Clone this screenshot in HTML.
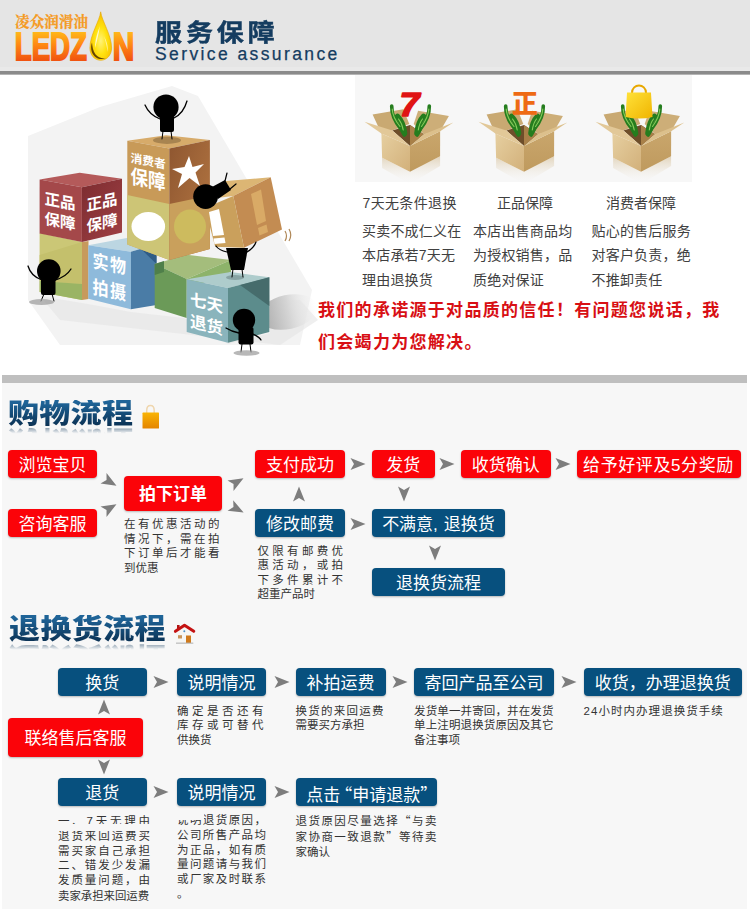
<!DOCTYPE html>
<html lang="zh-CN">
<head>
<meta charset="utf-8">
<title>服务保障</title>
<style>
*{margin:0;padding:0;box-sizing:border-box}
html,body{width:750px;height:909px;overflow:hidden;background:#fff}
body{position:relative;font-family:"Liberation Sans","Noto Sans CJK SC",sans-serif;color:#333}
.abs{position:absolute}
#hdr{left:0;top:0;width:750px;height:70px;background:#e5e5e5}
#hbar{left:0;top:67px;width:750px;height:8px;background:linear-gradient(#e9e9e9 0,#e9e9e9 4px,#8b8b8b 4px,#8b8b8b 7px,#b4b4b4 7px,#b4b4b4 8px)}
#panel{left:355px;top:75px;width:337px;height:107px;background:#f7f7f7}
.cap{position:absolute;font-size:14px;line-height:16px;color:#404040;white-space:nowrap;top:195px}
.txt{position:absolute;font-size:14px;line-height:24.4px;color:#404040;white-space:nowrap;top:219px;letter-spacing:.2px}
#promise{left:318px;top:295px;width:420px;font-size:17px;line-height:32px;font-weight:bold;color:#d80f14;letter-spacing:1.3px;white-space:nowrap}
.band{position:absolute;left:2px;width:745px;background:#f7f7f7}
.gbar{position:absolute;left:2px;width:745px;height:8px;background:#bfbfbf}
.ttl{position:absolute;font-family:"Liberation Sans","Noto Sans CJK SC",sans-serif;font-weight:900;font-size:31px;line-height:34px;height:34px;color:transparent;background:linear-gradient(#1f6498 10%,#0a3052 90%);-webkit-background-clip:text;background-clip:text;white-space:nowrap;transform:scaleY(.885);transform-origin:0 31px;-webkit-box-reflect:below -6px linear-gradient(to top,rgba(0,0,0,.55) 8%,transparent 30%)}
.bx{position:absolute;height:28px;border-radius:4px;color:#fff;font-size:17px;line-height:28px;text-align:center;white-space:nowrap;box-shadow:0 1px 2px rgba(0,0,0,.25)}
.r{background:#fb0309}
.b{background:#07507e}
.q{font-family:"Noto Sans CJK SC",sans-serif}
.d{position:absolute;font-size:11.5px;line-height:15px;color:#333;white-space:nowrap}
</style>
</head>
<body>
<div id="hdr" class="abs"></div>
<div id="hbar" class="abs"></div>
<div id="panel" class="abs"></div>
<svg class="abs" style="left:0;top:0" width="150" height="70" viewBox="0 0 150 70">
<defs>
<linearGradient id="lg1" x1="0" y1="0" x2="0" y2="1"><stop offset="0" stop-color="#ffd21e"/><stop offset=".45" stop-color="#ff8a12"/><stop offset="1" stop-color="#ea3a10"/></linearGradient>
<radialGradient id="dg" cx=".5" cy=".6" r=".62"><stop offset="0" stop-color="#fff27a"/><stop offset=".45" stop-color="#ffe210"/><stop offset=".85" stop-color="#f8c400"/><stop offset="1" stop-color="#e09a00"/></radialGradient>
</defs>
<text x="15" y="27.2" font-family="'Liberation Serif','Noto Serif CJK SC',serif" font-weight="700" font-size="14.5" fill="#f59a22" stroke="#f59a22" stroke-width=".25" textLength="73" lengthAdjust="spacing">凌众润滑油</text>
<text x="14.8" y="60" font-family="'Liberation Sans',sans-serif" font-weight="700" font-size="39" fill="url(#lg1)" stroke="url(#lg1)" stroke-width="2" stroke-linejoin="miter" textLength="72" lengthAdjust="spacingAndGlyphs">LEDZ</text>
<text x="112.7" y="60" font-family="'Liberation Sans',sans-serif" font-weight="700" font-size="39" fill="url(#lg1)" stroke="url(#lg1)" stroke-width="2" stroke-linejoin="miter" textLength="21.5" lengthAdjust="spacingAndGlyphs">N</text>
<path d="M100.7 11.8 C101.8 21 111.6 35 111.6 48 C111.6 55 106.8 60.3 100.7 60.3 C94.6 60.3 89.9 55 89.9 48 C89.9 35 99.6 21 100.7 11.8Z" fill="url(#dg)" stroke="#e8a800" stroke-width=".6"/>
<path d="M92 42.5 C90.3 47 91 52.5 94.5 56.2 C97.5 59.3 102.5 59.8 106 58 C102 58.8 98 57.5 95.6 54.5 C93 51.2 92.3 46.5 92 42.5Z" fill="#4a2c00" opacity=".85"/>
<path d="M99.8 26 C97.5 33 94.8 40 95.2 48 C96.5 42 99 34 99.8 26Z" fill="#fffbe0" opacity=".9"/>
<path d="M104 36 C106.5 41 108.5 46 107.5 52 C107 47 105.5 41 104 36Z" fill="#fffbe0" opacity=".7"/>
</svg>
<div class="abs" style="left:155px;top:14px;font-size:27px;line-height:36px;font-weight:700;-webkit-text-stroke:.5px #143c60;color:#143c60;letter-spacing:3.9px;white-space:nowrap;transform:scaleY(.9);transform-origin:0 30px" id="t1">服务保障</div>
<div class="abs" style="left:155px;top:43px;font-size:17.5px;line-height:22px;color:#143c60;letter-spacing:2.4px;-webkit-text-stroke:.25px #143c60;white-space:nowrap" id="t2">Service assurance</div>
<!--LOGO-END-->
<svg class="abs" style="left:0;top:75px" width="345" height="300" viewBox="0 75 345 300">
<defs>
<linearGradient id="shd" x1="0" y1="0" x2="1" y2="0"><stop offset="0" stop-color="#a8a8a8"/><stop offset=".5" stop-color="#d4d4d4"/><stop offset="1" stop-color="#f4f4f4" stop-opacity="0"/></linearGradient>
<linearGradient id="gR" x1="0" y1="0" x2="1" y2="1"><stop offset="0" stop-color="#7c2c30"/><stop offset="1" stop-color="#a04044"/></linearGradient>
<linearGradient id="gBr" x1="0" y1="0" x2="1" y2="1"><stop offset="0" stop-color="#8e5630"/><stop offset="1" stop-color="#b87a44"/></linearGradient>
</defs>
<!-- faint background -->
<polygon points="28,136 100,107 172,86 198,96 312,290 300,345 60,345 28,300" fill="#f3f3f3"/>
<!-- ground shadows -->
<polygon points="40,296 88,304 131,312 184,318 228,344 270,333 270,300 300,300 318,320 280,345 60,320" fill="#e4e4e4" opacity=".6"/>
<ellipse cx="288" cy="312" rx="30" ry="17" fill="url(#shd)" transform="rotate(-12 288 312)"/>
<!-- yellow-green cube under red -->
<polygon points="39.6,233 82,242 82,300 39.6,292" fill="#cbc776"/>
<polygon points="39.6,255 82,242 82,284 39.6,281" fill="#c4c06c"/>
<polygon points="39.6,281 82,284 82,300 39.6,292" fill="#9ab464"/>
<polygon points="82,242 88.5,241 88.5,299 82,300" fill="#c79a5c"/>
<!-- red cube -->
<polygon points="39.6,179.6 79.7,172.8 122,178.8 81.9,187.3" fill="#b45a5a"/>
<polygon points="39.6,179.6 81.9,187.3 81.9,242.1 39.6,233.6" fill="#a4484a"/>
<polygon points="81.9,187.3 122,178.8 122,232.5 81.9,242.1" fill="url(#gR)"/>
<!-- blue cube -->
<polygon points="88.3,245.3 126.7,237.9 156.5,244.3 130.9,251.7" fill="#bcd6e2"/>
<polygon points="88.3,245.3 130.9,251.7 130.9,309.3 88.3,298.7" fill="#8ebadb"/>
<polygon points="130.9,251.7 156.5,244.3 156.5,305 130.9,309.3" fill="#4a7ca6"/>
<polygon points="140,248 156.5,244.3 156.5,264 " fill="#2f5c86"/>
<!-- green cube -->
<polygon points="154.7,264 186.7,254.7 231,260 186.7,279" fill="#a4bd7c"/>
<polygon points="154.7,264 186.7,279 186.7,318 154.7,308" fill="#6b9a58"/>
<polygon points="186.7,279 231,260 231,272 186.7,290" fill="#8db36a"/>
<polygon points="154.7,264 164,261 164,272 154.7,275" fill="#4f7f4a"/>
<!-- tall tan cube -->
<polygon points="127.3,140.7 166.1,135.2 209.9,140.1 169.3,148.6" fill="#d7ab6a"/>
<polygon points="127.3,140.7 169.3,148.6 169.3,260 127.3,244.5" fill="#c89a58"/>
<polygon points="127.3,195 169.3,204 169.3,260 127.3,244.5" fill="#cdc576"/>
<polygon points="169.3,148.6 209.9,140.1 209.9,249 169.3,260" fill="url(#gBr)"/>
<polygon points="169.3,204 209.9,195.5 209.9,249 169.3,260" fill="#c9a05c"/>
<ellipse cx="148.3" cy="226.5" rx="16.8" ry="14.5" fill="#fff"/>
<ellipse cx="190" cy="226.5" rx="16" ry="17" fill="#cdbb5e"/>
<!-- star -->
<polygon points="189,156 192.5,167 204,164 195.5,172.5 200,186 189.5,178 178,188 182,174 172,169 184.5,167" fill="#fff"/>
<ellipse cx="167" cy="140.3" rx="14" ry="3.6" fill="#a88450"/>
<!-- tilted box -->
<polygon points="226,181 270.7,177.3 233.3,195.9 200,200" fill="#dcb674"/>
<polygon points="233.3,195.9 270.7,177.3 282,229.6 244,247.7" fill="#c38c52"/>
<polygon points="205,208 233.3,195.9 244,247.7 215.2,246.7" fill="#caa05c"/>
<polygon points="209,212 219,209 224,235 213,236" fill="#fff"/>
<polygon points="213.5,238.5 224.5,237.5 225.5,243 214.5,244" fill="#fff"/>
<polygon points="251,194 261,189.5 266,221 257,225" fill="#d9aa66"/>
<polygon points="258,228 266.5,224.5 268,232 259.5,235.5" fill="#d9aa66"/>
<!-- teal cube -->
<polygon points="186.7,279.2 230.7,272 269.3,277.3 228,288" fill="#aecccc"/>
<polygon points="186.7,279.2 228,288 228,342.7 186.7,332" fill="#8ab4bc"/>
<polygon points="228,288 269.3,277.3 269.3,332 228,342.7" fill="#5c8c8c"/>
<polygon points="240,285 269.3,277.3 269.3,306" fill="#466c6c"/>
<ellipse cx="235" cy="277.5" rx="9" ry="2.6" fill="#88a4a4"/>
<!-- figures -->
<g fill="#000" stroke="#000" stroke-linecap="round">
 <!-- top figure -->
 <circle cx="166" cy="107" r="12.6" stroke="none"/>
 <rect x="160" y="115" width="14" height="17" rx="2" stroke="none"/>
 <path d="M160,119 C155,117 148,112 145,105 M174,118 C180,115 185,108 187,101" fill="none" stroke-width="1.3"/>
 <path d="M163,131 L162,139 M171,131 L172,139" fill="none" stroke-width="1"/>
 <!-- left figure -->
 <circle cx="48.8" cy="271" r="11.8" stroke="none"/>
 <rect x="41" y="277" width="14.5" height="18" rx="2" stroke="none"/>
 <path d="M42,280 C36,278 30,273 28,266 M55,280 C62,278 68,274 71,269" fill="none" stroke-width="1.3"/>
 <path d="M44,294 L41,301 M52,294 L54,301" fill="none" stroke-width="1"/>
 <!-- pushing figure -->
 <circle cx="205.6" cy="196.6" r="12.4" stroke="none"/>
 <polygon points="212,187 225,180 231,190 218,199" stroke="none"/>
 <path d="M225,181 L227,173 M230,189 L236,184" fill="none" stroke-width="1.2"/>
 <!-- under-box figure -->
 <polygon points="226,248 248,248 244,270 231,270" stroke="none"/>
 <path d="M227,252 C222,251 218,249 216,246 M247,252 C252,249 255,245 256,242" fill="none" stroke-width="1.2"/>
 <path d="M233,269 L232,277 M242,269 L243,277" fill="none" stroke-width="1"/>
 <!-- bottom figure -->
 <circle cx="244" cy="320" r="11.2" stroke="none"/>
 <rect x="238.5" y="327" width="15" height="17.5" rx="2" stroke="none"/>
 <path d="M239,333 C234,332 229,330 226,328 M253,334 C257,336 260,338 261,340" fill="none" stroke-width="1.3"/>
 <path d="M242,344 L241,352 M250,344 L251,352" fill="none" stroke-width="1"/>
</g>
<path d="M285,231 q3,5 0,10 M289,229 q3.5,6 0,12" fill="none" stroke="#b08858" stroke-width="1.2"/>
<ellipse cx="41.5" cy="302" rx="12.5" ry="3" fill="#9a9a9a" opacity=".7"/>
<ellipse cx="246.5" cy="353" rx="13" ry="2.8" fill="#9a9a9a" opacity=".7"/>
<!-- cube labels -->
<g font-family="'Liberation Sans','Noto Sans CJK SC',sans-serif" font-weight="700" fill="#fff">
  <g transform="matrix(1,0.19,0,1,44.5,0)"><text x="0" y="204" font-size="15.5">正品</text><text x="0" y="224" font-size="15.5">保障</text></g>
 <g transform="matrix(1,-0.22,0,1,86.5,0)"><text x="0" y="211" font-size="15.5">正品</text><text x="0" y="232" font-size="15.5">保障</text></g>
 <g transform="matrix(1,0.19,0,1,130.5,0)"><text x="0" y="162" font-size="11.8">消费者</text></g><g transform="matrix(1,0.19,0,1.14,130.5,0)"><text x="0" y="160.8" font-size="17.5">保障</text></g>
 <g transform="matrix(1,0.2,0,1.16,92.5,0)"><text x="0" y="230.5" font-size="16" letter-spacing="1.5">实物</text><text x="0" y="253" font-size="16" letter-spacing="1.5">拍摄</text></g>
 <g transform="matrix(1,0.24,0,1,190,0)"><text x="0" y="305" font-size="16.5">七天</text><text x="0" y="327" font-size="16.5">退货</text></g>
</g>
</svg>
<!--ILLUS-END-->
<svg class="abs" style="left:355px;top:75px" width="340" height="115" viewBox="355 75 340 115">
<defs>
<linearGradient id="bxL" x1="0" y1="0" x2="1" y2="1"><stop offset="0" stop-color="#e6cfa0"/><stop offset="1" stop-color="#d2b07a"/></linearGradient>
<linearGradient id="bxR" x1="0" y1="0" x2="0" y2="1"><stop offset="0" stop-color="#c9a66c"/><stop offset="1" stop-color="#bf9a5e"/></linearGradient>
<linearGradient id="refl" x1="0" y1="0" x2="0" y2="1"><stop offset="0" stop-color="#d8c4a0" stop-opacity=".7"/><stop offset="1" stop-color="#f7f7f7" stop-opacity="0"/></linearGradient>
<linearGradient id="bag" x1="0" y1="0" x2="1" y2="1"><stop offset="0" stop-color="#ffe23a"/><stop offset="1" stop-color="#f0b400"/></linearGradient>
</defs>
<g transform="translate(410,146)"><polygon points="-27.9,11.7 0,25.7 30.1,10.3 30.1,20 0,38 -27.9,22" fill="url(#refl)"/><polygon points="-37.4,-31.5 -6.6,-36.7 -0.7,-22 -17.6,-15.4 -28.6,-12.5" fill="#c9a972"/><polygon points="8.1,-35.2 38.9,-30.1 30.1,-14.7 13.9,-11.7 3.7,-22" fill="#cdae78"/><polygon points="-17.6,-15.4 0,-21 13.9,-11.7 0,0" fill="#6e4e2a"/><polygon points="0,-21 13.9,-11.7 0,0" fill="#a88048"/><g fill="none" stroke="#257d1e" stroke-linecap="round"><path d="M-18.3,-40 C-18.5,-31 -15,-24 -9,-17 L-5.5,-11" stroke-width="3.6"/><path d="M-12.5,-29.5 C-9,-26 -6.5,-21 -5.5,-13" stroke-width="5.6"/><path d="M19.3,-40 C19.5,-31 16,-24 10.5,-17 L7,-11" stroke-width="3.6"/><path d="M13.5,-29.5 C10,-26 8,-21 7,-13" stroke-width="5.6"/></g><g fill="none" stroke="#86cc5c" stroke-linecap="round" stroke-width="1.1"><path d="M-17.8,-37 C-17.5,-31 -14.5,-25 -10,-19.5"/><path d="M-11.5,-27 C-9,-24 -7.5,-20.5 -6.8,-16"/><path d="M18.8,-37 C18.5,-31 15.5,-25 11.5,-19.5"/><path d="M12.5,-27 C10,-24 9,-20.5 8.3,-16"/></g><polygon points="-28.6,-12.5 0,0 0,25.7 -27.9,11.7" fill="url(#bxL)"/><polygon points="0,0 30.1,-14.7 30.1,10.3 0,25.7" fill="url(#bxR)"/><polygon points="-45.5,-24.2 -17.6,-15.4 0,0 -28.6,-12.5" fill="#e2c898"/><polygon points="0,0 30.1,-14.7 43.3,-23.5 13.9,-11.7" fill="#dcc08c"/></g><g transform="translate(524,146)"><polygon points="-27.9,11.7 0,25.7 30.1,10.3 30.1,20 0,38 -27.9,22" fill="url(#refl)"/><polygon points="-37.4,-31.5 -6.6,-36.7 -0.7,-22 -17.6,-15.4 -28.6,-12.5" fill="#c9a972"/><polygon points="8.1,-35.2 38.9,-30.1 30.1,-14.7 13.9,-11.7 3.7,-22" fill="#cdae78"/><polygon points="-17.6,-15.4 0,-21 13.9,-11.7 0,0" fill="#6e4e2a"/><polygon points="0,-21 13.9,-11.7 0,0" fill="#a88048"/><g fill="none" stroke="#257d1e" stroke-linecap="round"><path d="M-18.3,-40 C-18.5,-31 -15,-24 -9,-17 L-5.5,-11" stroke-width="3.6"/><path d="M-12.5,-29.5 C-9,-26 -6.5,-21 -5.5,-13" stroke-width="5.6"/><path d="M19.3,-40 C19.5,-31 16,-24 10.5,-17 L7,-11" stroke-width="3.6"/><path d="M13.5,-29.5 C10,-26 8,-21 7,-13" stroke-width="5.6"/></g><g fill="none" stroke="#86cc5c" stroke-linecap="round" stroke-width="1.1"><path d="M-17.8,-37 C-17.5,-31 -14.5,-25 -10,-19.5"/><path d="M-11.5,-27 C-9,-24 -7.5,-20.5 -6.8,-16"/><path d="M18.8,-37 C18.5,-31 15.5,-25 11.5,-19.5"/><path d="M12.5,-27 C10,-24 9,-20.5 8.3,-16"/></g><polygon points="-28.6,-12.5 0,0 0,25.7 -27.9,11.7" fill="url(#bxL)"/><polygon points="0,0 30.1,-14.7 30.1,10.3 0,25.7" fill="url(#bxR)"/><polygon points="-45.5,-24.2 -17.6,-15.4 0,0 -28.6,-12.5" fill="#e2c898"/><polygon points="0,0 30.1,-14.7 43.3,-23.5 13.9,-11.7" fill="#dcc08c"/></g><g transform="translate(641,146)"><polygon points="-27.9,11.7 0,25.7 30.1,10.3 30.1,20 0,38 -27.9,22" fill="url(#refl)"/><polygon points="-37.4,-31.5 -6.6,-36.7 -0.7,-22 -17.6,-15.4 -28.6,-12.5" fill="#c9a972"/><polygon points="8.1,-35.2 38.9,-30.1 30.1,-14.7 13.9,-11.7 3.7,-22" fill="#cdae78"/><polygon points="-17.6,-15.4 0,-21 13.9,-11.7 0,0" fill="#6e4e2a"/><polygon points="0,-21 13.9,-11.7 0,0" fill="#a88048"/><g fill="none" stroke="#257d1e" stroke-linecap="round"><path d="M-18.3,-40 C-18.5,-31 -15,-24 -9,-17 L-5.5,-11" stroke-width="3.6"/><path d="M-12.5,-29.5 C-9,-26 -6.5,-21 -5.5,-13" stroke-width="5.6"/><path d="M19.3,-40 C19.5,-31 16,-24 10.5,-17 L7,-11" stroke-width="3.6"/><path d="M13.5,-29.5 C10,-26 8,-21 7,-13" stroke-width="5.6"/></g><g fill="none" stroke="#86cc5c" stroke-linecap="round" stroke-width="1.1"><path d="M-17.8,-37 C-17.5,-31 -14.5,-25 -10,-19.5"/><path d="M-11.5,-27 C-9,-24 -7.5,-20.5 -6.8,-16"/><path d="M18.8,-37 C18.5,-31 15.5,-25 11.5,-19.5"/><path d="M12.5,-27 C10,-24 9,-20.5 8.3,-16"/></g><polygon points="-28.6,-12.5 0,0 0,25.7 -27.9,11.7" fill="url(#bxL)"/><polygon points="0,0 30.1,-14.7 30.1,10.3 0,25.7" fill="url(#bxR)"/><polygon points="-45.5,-24.2 -17.6,-15.4 0,0 -28.6,-12.5" fill="#e2c898"/><polygon points="0,0 30.1,-14.7 43.3,-23.5 13.9,-11.7" fill="#dcc08c"/></g><text x="399.5" y="115.5" font-family="'Liberation Sans',sans-serif" font-weight="700" font-style="italic" font-size="33" fill="#e01414" stroke="#e01414" stroke-width="1.6" stroke-linejoin="round" textLength="20" lengthAdjust="spacingAndGlyphs">7</text><text x="511.8" y="112.5" font-family="'Liberation Sans','Noto Sans CJK SC',sans-serif" font-weight="900" font-size="26" fill="#ee6a14">正</text><path d="M632,93 C632,83 646,83 646,93" fill="none" stroke="#e8a800" stroke-width="2"/><path d="M627,92.5 L651,92.5 L652.5,117 Q639,120 625.5,117Z" fill="url(#bag)"/></svg>
<!--BOXES-END-->
<div class="cap" style="left:362.5px;letter-spacing:.35px">7天无条件退换</div>
<div class="cap" style="left:497px">正品保障</div>
<div class="cap" style="left:606px">消费者保障</div>
<div class="txt" style="left:362px">买卖不成仁义在<br>本店承若7天无<br>理由退换货</div>
<div class="txt" style="left:473px">本店出售商品均<br>为授权销售，品<br>质绝对保证</div>
<div class="txt" style="left:591.5px">贴心的售后服务<br>对客户负责，绝<br>不推卸责任</div>
<div id="promise" class="abs">我们的承诺源于对品质的信任！有问题您说话，我<br>们会竭力为您解决。</div>
<!--TEXT1-END-->
<div class="gbar" style="top:375px"></div>
<div class="band" style="top:383px;height:526px"></div>
<div class="ttl" style="left:8px;top:396px;letter-spacing:.3px" id="tt1">购物流程</div>
<svg class="abs" style="left:140px;top:402px" width="22" height="28" viewBox="140 402 22 28"><defs><linearGradient id="lk" x1="0" y1="0" x2="0" y2="1"><stop offset="0" stop-color="#f9b404"/><stop offset="1" stop-color="#e48400"/></linearGradient></defs>
<path d="M146.7,413.5 V410.5 C146.7,403.7 154.2,403.7 154.2,410.5 V413.5" fill="none" stroke="#efd6ae" stroke-width="1.5"/>
<rect x="142.5" y="412.6" width="16.5" height="16" rx=".6" fill="url(#lk)"/></svg>
<div class="bx r" style="left:8px;top:450px;width:89px;height:28px;line-height:31px;">浏览宝贝</div>
<div class="bx r" style="left:8px;top:509px;width:89px;height:28px;line-height:31px;">咨询客服</div>
<div class="bx r" style="left:124px;top:476px;width:98px;height:34.5px;line-height:37.5px;font-weight:bold;">拍下订单</div>
<div class="bx r" style="left:255px;top:450px;width:90px;height:28px;line-height:31px;">支付成功</div>
<div class="bx b" style="left:255px;top:509px;width:90px;height:28px;line-height:31px;">修改邮费</div>
<div class="bx r" style="left:372px;top:450px;width:62.5px;height:28px;line-height:31px;">发货</div>
<div class="bx r" style="left:461px;top:450px;width:89.5px;height:28px;line-height:31px;">收货确认</div>
<div class="bx r" style="left:576.5px;top:450px;width:164px;height:28px;line-height:31px;letter-spacing:.6px">给予好评及5分奖励</div>
<div class="bx b" style="left:372px;top:509px;width:133px;height:28px;line-height:31px;">不满意,<span style="padding-left:6px">退换货</span></div>
<div class="bx b" style="left:372px;top:568px;width:133px;height:28px;line-height:31px;">退换货流程</div>
<svg class="abs" style="left:99.5px;top:471.5px" width="20" height="20" viewBox="-10 -10 20 20"><path transform="rotate(30)" d="M-7.5,-6.0 L7.5,0 L-7.5,6.0 L-4,0Z" fill="#7d7d7d"/></svg>
<svg class="abs" style="left:99.5px;top:497.5px" width="20" height="20" viewBox="-10 -10 20 20"><path transform="rotate(-30)" d="M-7.5,-6.0 L7.5,0 L-7.5,6.0 L-4,0Z" fill="#7d7d7d"/></svg>
<svg class="abs" style="left:227px;top:472px" width="20" height="20" viewBox="-10 -10 20 20"><path transform="rotate(-30)" d="M-7.5,-6.0 L7.5,0 L-7.5,6.0 L-4,0Z" fill="#7d7d7d"/></svg>
<svg class="abs" style="left:227px;top:498.5px" width="20" height="20" viewBox="-10 -10 20 20"><path transform="rotate(28)" d="M-7.5,-6.0 L7.5,0 L-7.5,6.0 L-4,0Z" fill="#7d7d7d"/></svg>
<svg class="abs" style="left:347.5px;top:454px" width="20" height="20" viewBox="-10 -10 20 20"><path transform="rotate(0)" d="M-7.5,-6.0 L7.5,0 L-7.5,6.0 L-4,0Z" fill="#7d7d7d"/></svg>
<svg class="abs" style="left:437px;top:454px" width="20" height="20" viewBox="-10 -10 20 20"><path transform="rotate(0)" d="M-7.5,-6.0 L7.5,0 L-7.5,6.0 L-4,0Z" fill="#7d7d7d"/></svg>
<svg class="abs" style="left:553px;top:454px" width="20" height="20" viewBox="-10 -10 20 20"><path transform="rotate(0)" d="M-7.5,-6.0 L7.5,0 L-7.5,6.0 L-4,0Z" fill="#7d7d7d"/></svg>
<svg class="abs" style="left:289px;top:484px" width="20" height="20" viewBox="-10 -10 20 20"><path transform="rotate(-90)" d="M-7.5,-6.0 L7.5,0 L-7.5,6.0 L-4,0Z" fill="#7d7d7d"/></svg>
<svg class="abs" style="left:394px;top:484px" width="20" height="20" viewBox="-10 -10 20 20"><path transform="rotate(90)" d="M-7.5,-6.0 L7.5,0 L-7.5,6.0 L-4,0Z" fill="#7d7d7d"/></svg>
<svg class="abs" style="left:347.5px;top:514px" width="20" height="20" viewBox="-10 -10 20 20"><path transform="rotate(0)" d="M-7.5,-6.0 L7.5,0 L-7.5,6.0 L-4,0Z" fill="#7d7d7d"/></svg>
<svg class="abs" style="left:425px;top:543px" width="20" height="20" viewBox="-10 -10 20 20"><path transform="rotate(90)" d="M-7.5,-6.0 L7.5,0 L-7.5,6.0 L-4,0Z" fill="#7d7d7d"/></svg>
<div class="d" style="left:124px;top:517px;width:95.5px;line-height:14.5px;"><div style="text-align-last:justify;">在有优惠活动的</div><div style="text-align-last:justify;">情况下，需在拍</div><div style="text-align-last:justify;">下订单后才能看</div><div style="">到优惠</div></div>
<div class="d" style="left:257.5px;top:543.5px;width:85.5px;line-height:14.6px;"><div style="text-align-last:justify;">仅限有邮费优</div><div style="text-align-last:justify;">惠活动，或拍</div><div style="text-align-last:justify;">下多件累计不</div><div style="">超重产品时</div></div>
<!--FLOW1-END-->
<div class="ttl" style="left:9px;top:612px;letter-spacing:.4px;transform:scaleY(.91)" id="tt2">退换货流程</div>
<svg class="abs" style="left:172px;top:620px" width="26" height="26" viewBox="172 620 26 26">
<polygon points="176.5,632 184.5,626 192.7,632 192.7,642.8 176.5,642.8" fill="#f6f6f4"/>
<rect x="177" y="625" width="2.6" height="4" fill="#b01414"/>
<path d="M175.4,631.3 L184.5,625.3 L193.8,631.3" fill="none" stroke="#c41212" stroke-width="3" stroke-linecap="round" stroke-linejoin="round"/>
<rect x="186" y="635.5" width="5" height="7.5" fill="#d07a1c"/><rect x="178" y="635.2" width="4" height="3.3" fill="#c8955c"/>
<circle cx="184.3" cy="631.3" r="1" fill="#4a90c8"/>
<rect x="176" y="642.6" width="17.3" height="1.1" fill="#b4b4b4"/></svg>
<div class="bx b" style="left:57.5px;top:668px;width:89.5px;height:28px;line-height:31px;">换货</div>
<div class="bx b" style="left:177px;top:668px;width:89px;height:28px;line-height:31px;">说明情况</div>
<div class="bx b" style="left:295.5px;top:668px;width:90px;height:28px;line-height:31px;">补拍运费</div>
<div class="bx b" style="left:414px;top:668px;width:140px;height:28px;line-height:31px;">寄回产品至公司</div>
<div class="bx b" style="left:583.5px;top:668px;width:158.5px;height:28px;line-height:31px;">收货，办理退换货</div>
<div class="bx r" style="left:8px;top:717.5px;width:135px;height:39px;line-height:42px;">联络售后客服</div>
<div class="bx b" style="left:57.5px;top:778px;width:89.5px;height:28px;line-height:31px;">退货</div>
<div class="bx b" style="left:177px;top:778px;width:89px;height:28px;line-height:31px;">说明情况</div>
<div class="bx b" style="left:295.5px;top:778px;width:141.5px;height:28px;line-height:31px;padding-left:6px;">点击<span class="q" style="margin-left:-5px">“</span>申请退款<span class="q" style="margin-right:-5px">”</span></div>
<svg class="abs" style="left:151px;top:672px" width="20" height="20" viewBox="-10 -10 20 20"><path transform="rotate(0)" d="M-7.5,-6.0 L7.5,0 L-7.5,6.0 L-4,0Z" fill="#7d7d7d"/></svg>
<svg class="abs" style="left:271.5px;top:672px" width="20" height="20" viewBox="-10 -10 20 20"><path transform="rotate(0)" d="M-7.5,-6.0 L7.5,0 L-7.5,6.0 L-4,0Z" fill="#7d7d7d"/></svg>
<svg class="abs" style="left:390px;top:672px" width="20" height="20" viewBox="-10 -10 20 20"><path transform="rotate(0)" d="M-7.5,-6.0 L7.5,0 L-7.5,6.0 L-4,0Z" fill="#7d7d7d"/></svg>
<svg class="abs" style="left:558.5px;top:672px" width="20" height="20" viewBox="-10 -10 20 20"><path transform="rotate(0)" d="M-7.5,-6.0 L7.5,0 L-7.5,6.0 L-4,0Z" fill="#7d7d7d"/></svg>
<svg class="abs" style="left:151px;top:782px" width="20" height="20" viewBox="-10 -10 20 20"><path transform="rotate(0)" d="M-7.5,-6.0 L7.5,0 L-7.5,6.0 L-4,0Z" fill="#7d7d7d"/></svg>
<svg class="abs" style="left:271.5px;top:782px" width="20" height="20" viewBox="-10 -10 20 20"><path transform="rotate(0)" d="M-7.5,-6.0 L7.5,0 L-7.5,6.0 L-4,0Z" fill="#7d7d7d"/></svg>
<svg class="abs" style="left:94px;top:697px" width="20" height="20" viewBox="-10 -10 20 20"><path transform="rotate(-90)" d="M-7.5,-6.0 L7.5,0 L-7.5,6.0 L-4,0Z" fill="#7d7d7d"/></svg>
<svg class="abs" style="left:94px;top:757px" width="20" height="20" viewBox="-10 -10 20 20"><path transform="rotate(90)" d="M-7.5,-6.0 L7.5,0 L-7.5,6.0 L-4,0Z" fill="#7d7d7d"/></svg>
<div class="d" style="left:177px;top:703.5px;width:86.5px;line-height:14.6px;"><div style="text-align-last:justify;">确定是否还有</div><div style="text-align-last:justify;">库存或可替代</div><div style="">供换货</div></div>
<div class="d" style="left:295.5px;top:703.5px;width:88px;line-height:14.6px;"><div style="text-align-last:justify;">换货的来回运费</div><div style="">需要买方承担</div></div>
<div class="d" style="left:414px;top:703.5px;width:139.5px;line-height:14.8px;"><div style="text-align-last:justify;">发货单一并寄回，并在发货</div><div style="text-align-last:justify;">单上注明退换货原因及其它</div><div style="">备注事项</div></div>
<div class="d" style="left:583.5px;top:703.5px;width:140px;line-height:14.8px;letter-spacing:1.05px;"><div style="">24小时内办理退换货手续</div></div>
<div class="d" style="left:58px;top:814px;width:92px;line-height:14.8px;"><div style="text-align-last:justify;">一、7天无理由</div><div style="text-align-last:justify;">退货来回运费买</div><div style="text-align-last:justify;">需买家自己承担</div><div style="text-align-last:justify;">二、错发少发漏</div><div style="text-align-last:justify;">发质量问题，由</div><div style="font-size:11.4px;letter-spacing:0;position:relative;top:1.5px;left:0">卖家承担来回运费</div></div>
<div class="d" style="left:177px;top:813px;width:89px;line-height:14.8px;"><div style="text-align-last:justify;">说明退货原因，</div><div style="text-align-last:justify;">公司所售产品均</div><div style="text-align-last:justify;">为正品，如有质</div><div style="text-align-last:justify;">量问题请与我们</div><div style="text-align-last:justify;">或厂家及时联系</div><div style="">。</div></div>
<div class="d" style="left:295.5px;top:813px;width:141px;line-height:14.8px;"><div style="text-align-last:justify;">退货原因尽量选择<span class="q">“</span>与卖</div><div style="text-align-last:justify;">家协商一致退款<span class="q">”</span>等待卖</div><div style="">家确认</div></div>
<div class="abs" style="left:56px;top:824px;width:98px;height:6.5px;background:#f7f7f7"></div>
<div class="abs" style="left:175px;top:809px;width:29px;height:10.5px;background:#f7f7f7"></div>
<!--FLOW2-END-->
</body>
</html>
